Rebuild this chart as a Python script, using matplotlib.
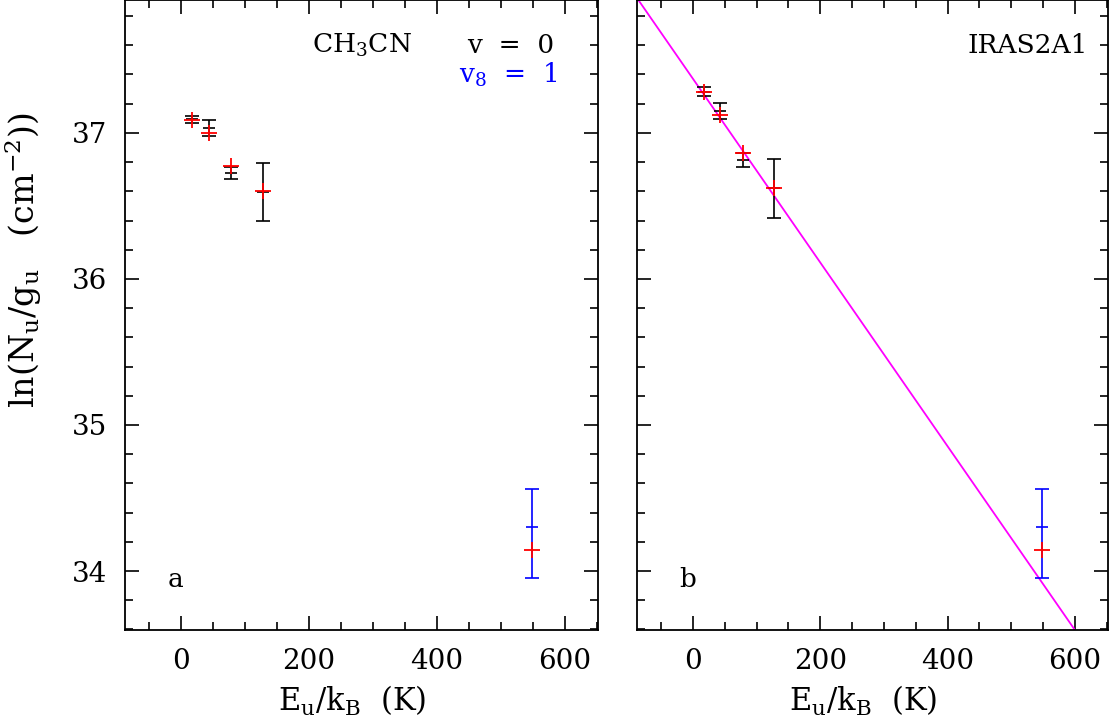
import matplotlib
matplotlib.use("Agg")
import matplotlib.pyplot as plt
import numpy as np
from matplotlib.ticker import MultipleLocator

plt.rcParams['font.family'] = ['DejaVu Serif']
plt.rcParams['mathtext.fontset'] = 'dejavuserif'

# Panel a data (v=0 black observed, red model)
eu_v0 = [17, 43, 78, 128]
a_obs = [37.092, 37.031, 36.724, 36.595]
a_err = [0.026, 0.055, 0.042, 0.199]
a_mod = [37.089, 37.002, 36.776, 36.603]

# Panel b data
b_obs = [37.283, 37.152, 36.813, 36.620]
b_err = [0.030, 0.056, 0.049, 0.200]
b_mod = [37.279, 37.123, 36.861, 36.625]

# v8=1 (blue) point, asymmetric errors
eu_v8 = [548]
v8_obs = [34.30]
v8_lo = [0.35]
v8_hi = [0.26]
v8_mod = [34.142]

# Rotational diagram fit (panel b)
fit_slope = -0.00629
fit_icpt = 37.37

xlim = (-88, 652)
ylim = (33.596, 37.91)

fig = plt.figure(figsize=(11.11, 7.18), dpi=100)
axa = fig.add_axes([125/1111, 88/718, 473/1111, 630/718])
axb = fig.add_axes([637/1111, 88/718, 471/1111, 630/718])

def style(ax, ylabels=True):
    ax.set_xlim(*xlim)
    ax.set_ylim(*ylim)
    ax.xaxis.set_major_locator(MultipleLocator(200))
    ax.xaxis.set_minor_locator(MultipleLocator(50))
    ax.yaxis.set_major_locator(MultipleLocator(1))
    ax.yaxis.set_minor_locator(MultipleLocator(0.2))
    ax.tick_params(which='both', direction='in', top=True, right=True, width=1.2)
    ax.tick_params(which='major', length=10, labelsize=20, pad=13)
    ax.tick_params(which='minor', length=5.5)
    for s in ax.spines.values():
        s.set_linewidth(1.3)
    if not ylabels:
        ax.set_yticklabels([])
    ax.set_xlabel(r'E$_\mathregular{u}$/k$_\mathregular{B}$  (K)', fontsize=22, labelpad=6)
    ax.xaxis.set_label_coords(0.48, -0.085)

def draw(ax, obs, err, mod):
    ax.errorbar(eu_v0, obs, yerr=err, fmt='_', color='black', ms=8, mew=1.2,
                elinewidth=1.2, capsize=5, capthick=1.2, zorder=3)
    ax.errorbar(eu_v8, v8_obs, yerr=[v8_lo, v8_hi], fmt='_', color='#0000ff', ms=8, mew=1.2,
                elinewidth=1.2, capsize=5, capthick=1.2, zorder=3)
    ax.plot(eu_v0, mod, '+', color='#ff0000', ms=11, mew=1.3, zorder=4)
    ax.plot(eu_v8, v8_mod, '+', color='#ff0000', ms=11, mew=1.3, zorder=4)

style(axa)
style(axb, ylabels=False)
draw(axa, a_obs, a_err, a_mod)
draw(axb, b_obs, b_err, b_mod)

xx = np.array(xlim)
axb.plot(xx, fit_icpt + fit_slope * xx, color='#ff00ff', lw=1.3, zorder=2)

axa.set_ylabel(r'ln(N$_\mathregular{u}$/g$_\mathregular{u}$   (cm$^{-2}$))', fontsize=24)
axa.yaxis.set_label_coords(-0.172, 0.587)

axa.text(282, 37.60, r'CH$_3$CN', fontsize=19, ha='center', va='center')
axa.text(515, 37.60, 'v  =  0', fontsize=19, ha='center', va='center')
axa.text(512, 37.40, r'v$_8$  =  1', fontsize=19, ha='center', va='center', color='#0000ff')
axa.text(-9, 33.94, 'a', fontsize=19, ha='center', va='center')
axb.text(620, 37.60, 'IRAS2A1', fontsize=19, ha='right', va='center')
axb.text(-9, 33.94, 'b', fontsize=19, ha='center', va='center')

fig.savefig('out.png', dpi=100)
